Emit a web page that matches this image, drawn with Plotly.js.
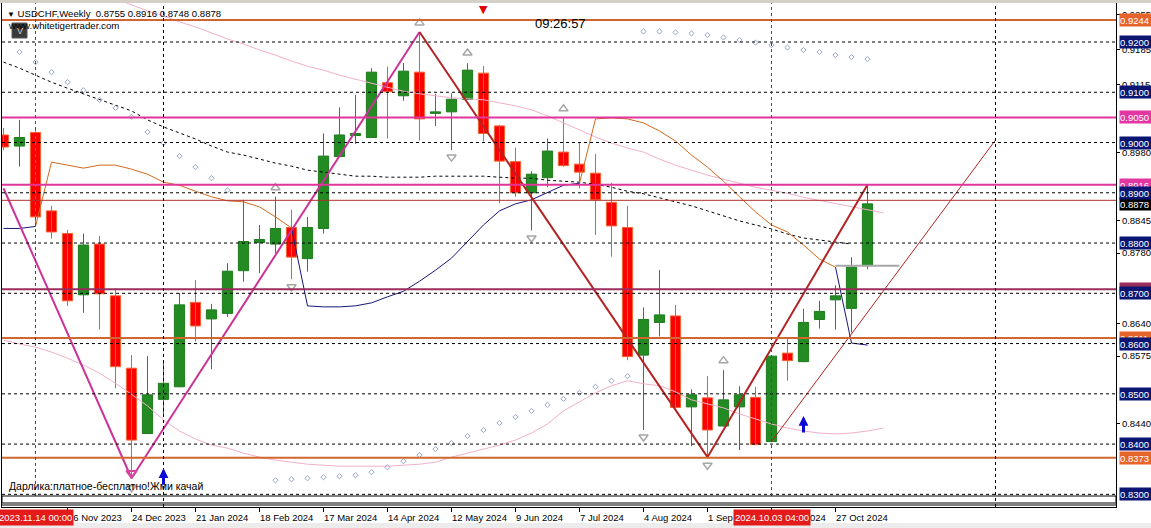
<!DOCTYPE html>
<html><head><meta charset="utf-8">
<script src="https://cdn.plot.ly/plotly-3.0.1.min.js"></script>
<style>html,body{margin:0;padding:0;background:#fff;}#chart{width:1151px;height:528px;}</style>
</head><body><div id="chart"></div>
<script>
// Weekly bars, index 0 = week of 29 Oct 2023
const opens  = [0.9015,0.8993,0.9020,0.8864,0.8819,0.8697,0.8798,0.8695,0.8551,0.8421,0.8489,0.8514,0.8682,0.8649,0.8660,0.8745,0.8801,0.8798,0.8831,0.8769,0.8829,0.8972,0.9014,0.9010,0.9119,0.9093,0.9140,0.9058,0.9061,0.9086,0.9138,0.9033,0.8962,0.8900,0.8930,0.8981,0.8957,0.8939,0.8881,0.8831,0.8577,0.8642,0.8655,0.8474,0.8492,0.8436,0.8474,0.8493,0.8405,0.8581,0.8564,0.8648,0.8687,0.8670,0.8755];
const highs  = [0.9029,0.9045,0.9025,0.8874,0.8826,0.8819,0.8814,0.8710,0.8577,0.8575,0.8567,0.8701,0.8726,0.8679,0.8760,0.8886,0.8836,0.8892,0.8866,0.8852,0.9018,0.9070,0.9095,0.9148,0.9151,0.9158,0.9220,0.9097,0.9098,0.9158,0.9152,0.9035,0.8990,0.8943,0.9008,0.9051,0.9000,0.8977,0.8920,0.8874,0.8672,0.8746,0.8677,0.8509,0.8535,0.8547,0.8515,0.8514,0.8576,0.8610,0.8669,0.8685,0.8716,0.8772,0.8916];
const lows   = [0.8985,0.8952,0.8836,0.8809,0.8675,0.8661,0.8628,0.8511,0.8332,0.8420,0.8458,0.8513,0.8604,0.8549,0.8653,0.8723,0.8740,0.8780,0.8728,0.8743,0.8819,0.8971,0.8997,0.9009,0.9008,0.9083,0.9004,0.9033,0.8985,0.9085,0.9002,0.8879,0.8892,0.8825,0.8911,0.8952,0.8909,0.8816,0.8773,0.8567,0.8428,0.8614,0.8472,0.8396,0.8374,0.8435,0.8388,0.8398,0.8404,0.8526,0.8563,0.8630,0.8628,0.8622,0.8748];
const closes = [0.8991,0.9010,0.8852,0.8822,0.8685,0.8796,0.8699,0.8554,0.8408,0.8498,0.8521,0.8677,0.8635,0.8667,0.8744,0.8803,0.8807,0.8829,0.8772,0.8831,0.8973,0.9015,0.9018,0.9140,0.9101,0.9142,0.9047,0.9061,0.9086,0.9144,0.9018,0.8963,0.8900,0.8937,0.8983,0.8954,0.8941,0.8886,0.8834,0.8574,0.8648,0.8657,0.8473,0.8498,0.8428,0.8488,0.8498,0.8399,0.8575,0.8566,0.8642,0.8664,0.8695,0.8752,0.8878];

// Indicators (price values per week index)
const trailNavy = [0.8829,0.8829,0.8833,null,null,null,null,null,null,null,null,null,null,null,null,null,null,null,0.8830,0.8675,0.8673,0.8673,0.8675,0.8681,0.8693,0.8704,0.8724,0.8746,0.8770,0.8804,0.8836,0.8864,0.8878,0.8886,0.8900,0.8915,0.8919,null,null,null,null,null,null,null,null,null,null,null,null,null,null,null,0.8752,0.8601,0.8597];
const trailOrange = [null,null,0.8833,0.8961,0.8955,0.8949,0.8955,0.8955,0.8947,0.8937,0.8921,0.8915,0.8903,0.8892,0.8884,0.8882,0.8872,0.8852,0.8830,null,null,null,null,null,null,null,null,null,null,null,null,null,null,null,null,null,0.8919,0.9047,0.9049,0.9047,0.9039,0.9023,0.9003,0.8975,0.8951,0.8923,0.8892,0.8862,0.8836,0.8822,0.8796,0.8768,0.8752,null,null];
const maBlack = [0.9160,0.9148,0.9134,0.9120,0.9108,0.9097,0.9085,0.9075,0.9063,0.9045,0.9031,0.9019,0.9007,0.8993,0.8981,0.8975,0.8967,0.8959,0.8953,0.8945,0.8941,0.8937,0.8933,0.8933,0.8931,0.8931,0.8931,0.8933,0.8933,0.8933,0.8933,0.8931,0.8929,0.8929,0.8925,0.8923,0.8921,0.8917,0.8911,0.8903,0.8898,0.8890,0.8882,0.8874,0.8864,0.8854,0.8844,0.8836,0.8828,0.8818,0.8810,0.8806,0.8802,0.8798,null];
const pinkUpper = [null,null,null,null,null,null,null,0.9286,0.9274,0.9262,0.9252,0.9240,0.9230,0.9218,0.9206,0.9196,0.9184,0.9174,0.9162,0.9152,0.9144,0.9134,0.9126,0.9118,0.9110,0.9102,0.9097,0.9093,0.9089,0.9087,0.9085,0.9079,0.9073,0.9065,0.9053,0.9039,0.9025,0.9011,0.8999,0.8989,0.8981,0.8967,0.8955,0.8945,0.8935,0.8927,0.8919,0.8911,0.8905,0.8899,0.8891,0.8885,0.8879,0.8872,0.8866,0.8860];
const pinkLower = [0.8607,0.8599,0.8593,0.8583,0.8571,0.8557,0.8541,0.8521,0.8499,0.8476,0.8448,0.8426,0.8410,0.8398,0.8392,0.8382,0.8374,0.8368,0.8364,0.8360,0.8358,0.8356,0.8356,0.8356,0.8356,0.8358,0.8360,0.8364,0.8374,0.8382,0.8390,0.8398,0.8408,0.8422,0.8440,0.8466,0.8484,0.8502,0.8516,0.8526,0.8520,0.8516,0.8504,0.8488,0.8480,0.8472,0.8460,0.8450,0.8440,0.8432,0.8426,0.8422,0.8420,0.8422,0.8426,0.8432];
const sarDots = [null,0.9180,0.9160,0.9140,0.9120,0.9104,0.9085,0.9069,0.9051,0.9021,0.8999,0.8973,0.8951,0.8929,0.8905,null,null,0.8328,0.8330,0.8332,0.8334,0.8336,0.8338,0.8344,0.8354,0.8366,0.8378,0.8390,0.8402,0.8416,0.8428,0.8442,0.8454,0.8466,0.8478,0.8490,0.8502,0.8514,0.8526,0.8535,0.9221,0.9221,0.9219,0.9217,0.9214,0.9209,0.9204,0.9199,0.9194,0.9189,0.9184,0.9180,0.9174,0.9170,0.9166];

// Zigzags / drawn objects
const zzPinkIdx = [0, 8, 26];   const zzPinkVal = [0.8909, 0.8332, 0.9220];
const zzRedIdx  = [26, 44, 54]; const zzRedVal  = [0.9220, 0.8374, 0.8916];
const channelIdx = [48, 62];    const channelVal = [0.8405, 0.9005];
const openLineIdx = [52, 56];
const fracUpIdx = [17, 26, 29, 35, 45]; const fracUpVal = [0.8910, 0.9238, 0.9178, 0.9067, 0.8566];
const fracDnIdx = [8, 18, 28, 33, 40, 44]; const fracDnVal = [0.8313, 0.8713, 0.8971, 0.8810, 0.8414, 0.8358];
const zzMarkIdx = [8]; const zzMarkVal = [0.8342];
const arrowIdx = [10, 50]; const arrowVal = [0.8352, 0.8456];

// Levels and labels
const roundLevels = [0.9200,0.9100,0.9000,0.8900,0.8800,0.8700,0.8600,0.8500,0.8400,0.8300];
const axisTicks = [0.9255,0.9185,0.9115,0.8980,0.8845,0.8780,0.8640,0.8575,0.8440];
const hLevels = [0.9244,0.9050,0.8916,0.8708,0.8611,0.8373];
const askLevel = 0.8885;
const tickIdx = [4,8,12,16,20,24,28,32,36,40,44,48,52];
const tickLabels = ['26 Nov 2023','24 Dec 2023','21 Jan 2024','18 Feb 2024','17 Mar 2024','14 Apr 2024','12 May 2024','9 Jun 2024','7 Jul 2024','4 Aug 2024','1 Sep 2024','29 Sep 2024','27 Oct 2024'];
const vRedIdx = [2, 48]; const vRedLabels = ['2023.11.14 00:00','2024.10.03 04:00'];
const vBlackIdx = [10, 62];
const shiftIdx = 30;

// ---- styles ----
const hLevelLine = ['#CF6631','#E0359A','#E0359A','#9A2D5C','#D0672F','#D0672F'];
const hLevelBox  = ['#E6642A','#E236A0','#E236A0','#9A2D5C','#E6642A','#E6642A'];
const FONT = 'Liberation Sans, Arial, sans-serif';
const PL=2, PR=1116, PT=3, PB=507;
const fx = px => (px-PL)/(PR-PL);
const fy = py => (PB-py)/(PB-PT);

const N = opens.length;
const idx = opens.map((_,i)=>i);
const isUp = closes.map((c,i)=>c>=opens[i]);
const bodyBase = opens.map((o,i)=>Math.min(o,closes[i]));
const bodyH = opens.map((o,i)=>Math.max(Math.abs(closes[i]-o),0.00005));
function wicks(up){const x=[],y=[];for(let i=0;i<N;i++){if(isUp[i]===up){x.push(i,i,null);y.push(lows[i],highs[i],null);}}return {x,y};}
const wu=wicks(true), wd=wicks(false);

const traces = [
 {type:'scatter',mode:'lines',x:wu.x,y:wu.y,line:{color:'#228B22',width:1},hoverinfo:'skip'},
 {type:'scatter',mode:'lines',x:wd.x,y:wd.y,line:{color:'#D2691E',width:1},hoverinfo:'skip'},
 {type:'bar',x:idx,y:bodyH,base:bodyBase,width:0.64,
  marker:{color:isUp.map(u=>u?'#228B22':'#FF0000'),line:{color:isUp.map(u=>u?'#1E7A1E':'#F26533'),width:1}},hoverinfo:'skip'},
 {type:'scatter',mode:'lines',x:pinkUpper.map((_,i)=>i),y:pinkUpper,line:{color:'#F2AFCB',width:1}},
 {type:'scatter',mode:'lines',x:pinkLower.map((_,i)=>i),y:pinkLower,line:{color:'#F2AFCB',width:1}},
 {type:'scatter',mode:'lines',x:idx,y:maBlack,line:{color:'#000000',width:1,dash:'3px,3px'}},
 {type:'scatter',mode:'lines',x:idx,y:trailOrange,line:{color:'#D2691E',width:1}},
 {type:'scatter',mode:'lines',x:idx,y:trailNavy,line:{color:'#16167A',width:1}},
 {type:'scatter',mode:'markers',x:idx,y:sarDots,marker:{symbol:'diamond-open',size:4,color:'#93A6C8',line:{width:1}}},
 {type:'scatter',mode:'lines',x:zzPinkIdx,y:zzPinkVal,line:{color:'#CC3399',width:2}},
 {type:'scatter',mode:'lines',x:zzRedIdx,y:zzRedVal,line:{color:'#B42222',width:2}},
 {type:'scatter',mode:'lines',x:channelIdx,y:channelVal,line:{color:'#B42222',width:1}},
 {type:'scatter',mode:'lines',x:openLineIdx,y:openLineIdx.map(()=>opens[N-1]),line:{color:'#A8A8A8',width:2}},
 {type:'scatter',mode:'markers',x:fracUpIdx,y:fracUpVal,marker:{symbol:'triangle-up-open',size:8,color:'#A6A6A6',line:{width:1.5}}},
 {type:'scatter',mode:'markers',x:fracDnIdx,y:fracDnVal,marker:{symbol:'triangle-down-open',size:8,color:'#A6A6A6',line:{width:1.5}}},
 {type:'scatter',mode:'markers',x:zzMarkIdx,y:zzMarkVal,marker:{symbol:'triangle-down-open',size:9,color:'#D8449E',line:{width:2}}}
];

const shapes = [];
shapes.push({type:'rect',xref:'paper',yref:'paper',x0:fx(0),x1:fx(1151),y0:fy(3),y1:fy(0),fillcolor:'#D4D0C8',line:{width:0},layer:'above'});
shapes.push({type:'rect',xref:'paper',yref:'paper',x0:fx(0),x1:fx(1151),y0:fy(528),y1:fy(523),fillcolor:'#ECECEC',line:{width:0},layer:'above'});
roundLevels.forEach(v=>shapes.push({type:'line',xref:'paper',x0:0,x1:1,yref:'y',y0:v,y1:v,line:{color:'#000',width:1,dash:'3px,3px'},layer:'above'}));
hLevels.forEach((v,k)=>shapes.push({type:'line',xref:'paper',x0:0,x1:1,yref:'y',y0:v,y1:v,line:{color:hLevelLine[k],width:2},layer:'above'}));
shapes.push({type:'line',xref:'paper',x0:0,x1:1,yref:'y',y0:askLevel,y1:askLevel,line:{color:'#B03030',width:1},layer:'above'});
vRedIdx.forEach(i=>shapes.push({type:'line',xref:'x',x0:i,x1:i,yref:'paper',y0:fy(496),y1:1,line:{color:'#B22222',width:1,dash:'3px,3px'},layer:'above'}));
shapes.push({type:'rect',xref:'paper',yref:'paper',x0:0,x1:1,y0:fy(503),y1:fy(496),fillcolor:'#fff',line:{color:'#000',width:1},layer:'above'});
shapes.push({type:'line',xref:'paper',yref:'paper',x0:0,x1:1,y0:fy(505),y1:fy(505),line:{color:'#000',width:1},layer:'above'});
vBlackIdx.forEach(i=>shapes.push({type:'line',xref:'x',x0:i,x1:i,yref:'paper',y0:0,y1:1,line:{color:'#000',width:1,dash:'3px,3px'},layer:'above'}));
shapes.push({type:'rect',xref:'paper',yref:'paper',x0:fx(12),x1:fx(27),y0:fy(38),y1:fy(23),fillcolor:'#3A3A3A',line:{color:'#555',width:1},layer:'above'});

const ann = [];
function box(v,bg){return {xref:'paper',x:1,xanchor:'left',xshift:3,yref:'y',y:v,yanchor:'middle',text:v.toFixed(4),showarrow:false,bgcolor:bg,font:{family:FONT,size:9.5,color:'#fff'},width:31,height:12,borderpad:0,align:'left'};}
hLevels.forEach((v,k)=>ann.push(box(v,hLevelBox[k])));
ann.push(box(closes[N-1],'#000000'));
roundLevels.forEach(v=>ann.push(box(v,'#0B1672')));
tickIdx.forEach((t,k)=>ann.push({xref:'x',x:t,xanchor:'left',xshift:-2,yref:'paper',y:0,yanchor:'top',yshift:-3,text:tickLabels[k],showarrow:false,font:{family:FONT,size:9.5,color:'#000'}}));
vRedIdx.forEach((t,k)=>ann.push({xref:'x',x:t,xanchor:'center',yref:'paper',y:0,yanchor:'top',yshift:-2,text:vRedLabels[k],showarrow:false,bgcolor:'#E41B1B',font:{family:FONT,size:9.5,color:'#fff'},height:13,borderpad:1}));
arrowIdx.forEach((t,k)=>ann.push({xref:'x',x:t,yref:'y',y:arrowVal[k],text:'',showarrow:true,ax:0,ay:18,arrowhead:2,arrowsize:0.65,arrowwidth:3,arrowcolor:'#0A0AD2'}));
ann.push({xref:'x',x:shiftIdx,yref:'paper',y:1,yanchor:'top',yshift:2,text:'▼',showarrow:false,font:{family:'DejaVu Sans',size:11,color:'#E00000'}});
ann.push({xref:'paper',x:fx(5),xanchor:'left',yref:'paper',y:fy(13),yanchor:'middle',showarrow:false,
  text:'<span style="font-size:8px">▼</span> USDCHF,Weekly\u00A0\u00A0'+[opens[N-1],highs[N-1],lows[N-1],closes[N-1]].map(v=>v.toFixed(4)).join(' '),font:{family:FONT,size:9.6,color:'#000'}});
ann.push({xref:'paper',x:fx(6),xanchor:'left',yref:'paper',y:fy(26),yanchor:'middle',showarrow:false,text:'www.whitetigertrader.com',font:{family:FONT,size:9.7,color:'#000'}});
ann.push({xref:'paper',x:fx(19.5),xanchor:'center',yref:'paper',y:fy(31),yanchor:'middle',showarrow:false,text:'V',font:{family:FONT,size:9,color:'#D0D0D0'}});
ann.push({xref:'paper',x:fx(560),xanchor:'center',yref:'paper',y:fy(24),yanchor:'middle',showarrow:false,text:'09:26:57',font:{family:FONT,size:13,color:'#000'}});
ann.push({xref:'paper',x:fx(7),xanchor:'left',yref:'paper',y:fy(486),yanchor:'middle',showarrow:false,text:'Дарлика:платное-бесплатно!Жми качай',font:{family:FONT,size:10.5,color:'#000'}});

const layout = {
 width:1151,height:528,margin:{l:PL,r:1151-PR,t:PT,b:528-PB,pad:0},
 paper_bgcolor:'#fff',plot_bgcolor:'#fff',showlegend:false,
 font:{family:FONT,size:10,color:'#000'},
 barmode:'overlay',
 xaxis:{range:[(PL-3.5)/16,(PR-3.5)/16],showgrid:false,zeroline:false,showline:true,mirror:true,linecolor:'#000',linewidth:1,
   tickvals:tickIdx,ticks:'outside',ticklen:4,tickcolor:'#000',showticklabels:false,fixedrange:true},
 yaxis:{range:[0.92-(PB-42)/5026,0.92+(42-PT)/5026],side:'right',showgrid:false,zeroline:false,showline:true,mirror:true,linecolor:'#000',linewidth:1,
   tickvals:axisTicks,ticktext:axisTicks.map(v=>v.toFixed(4)),ticks:'outside',ticklen:3,tickcolor:'#000',
   tickfont:{family:FONT,size:9.5,color:'#000'},fixedrange:true},
 shapes:shapes,annotations:ann
};
Plotly.newPlot('chart',traces,layout,{staticPlot:true,displayModeBar:false});
</script></body></html>
